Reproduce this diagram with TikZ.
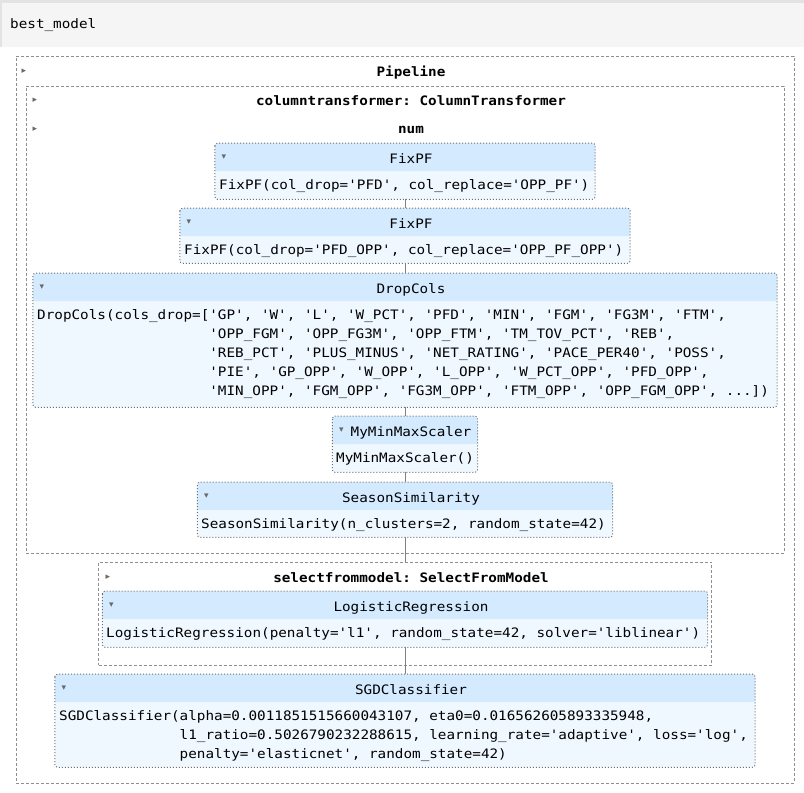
\documentclass[tikz,border=0pt]{standalone}
\usepackage{fontspec}
\setmonofont[FakeStretch=1.1]{DejaVu Sans Mono}
\newfontfamily\symfont{DejaVu Sans}

\definecolor{hdrblue}{HTML}{D4EBFF}
\definecolor{bodyblue}{HTML}{F0F8FF}
\definecolor{cellbg}{HTML}{F5F5F5}
\definecolor{cellline}{HTML}{E3E3E3}
\definecolor{wireline}{HTML}{808080}
\definecolor{dashline}{HTML}{8F8F8F}
\definecolor{dotline}{HTML}{6E6E6E}
\definecolor{arrowgray}{HTML}{696969}

\tikzset{
  mono/.style={font=\ttfamily\fontsize{13}{19}\selectfont, inner sep=0pt, text=black},
  monobold/.style={font=\ttfamily\bfseries\fontsize{13}{19}\selectfont, inner sep=0pt, text=black},
  bodyline/.style={mono, anchor=base west},
  titleline/.style={mono, anchor=base},
  grouptitle/.style={monobold, anchor=base},
  toggle/.style={font=\symfont\fontsize{9}{10}\selectfont, text=arrowgray, inner sep=0pt},
  groupbox/.style={draw=dashline, dash pattern=on 3pt off 2pt, line width=0.9pt,
    rectangle, inner sep=0pt, anchor=north},
  estfill/.style={fill=bodyblue, rectangle, rounded corners=3pt, inner sep=0pt, anchor=north},
  estborder/.style={draw=dotline, dotted, line width=1pt, rounded corners=3pt},
  wire/.style={draw=wireline, line width=1pt},
}

% estimator box: name, width, top, height, title
\newcommand\estimatorbox[5]{%
  \node[estfill, minimum width=#2, minimum height=#4] (#1) at (405,#3) {};
  \fill[hdrblue, rounded corners=3pt] (#1.north west) rectangle ([yshift=-28pt]#1.north east);
  \fill[hdrblue] ([yshift=-10pt]#1.north west) rectangle ([yshift=-28pt]#1.north east);
  \draw[estborder] (#1.north west) rectangle (#1.south east);
  \node[toggle] (#1-tg) at ([xshift=9pt,yshift=-14pt]#1.north west) {▾};
  \node[titleline] (#1-title) at (411,#3+20) {#5};
}

\begin{document}
\begin{tikzpicture}[x=1pt,y=-1pt]
\useasboundingbox (0,0) rectangle (804,793);

% notebook input cell
\fill[cellbg] (0,0) rectangle (804,47);
\fill[cellline] (0,0) rectangle (804,3);
\fill[cellline] (0,3) rectangle (2,47);
\node[bodyline] (cell) at (10,28) {best\_model};

% dashed group boxes
\node[groupbox, minimum width=778, minimum height=727] (pipe) at (405,56) {};
\node[toggle] (pipe-tg) at (24,71) {▸};
\node[grouptitle] (pipe-title) at (411,76) {Pipeline};

\node[groupbox, minimum width=758, minimum height=467] (ct) at (405,86) {};
\node[toggle] (ct-tg) at (35,100) {▸};
\node[grouptitle] (ct-title) at (411,105) {columntransformer: ColumnTransformer};
\node[toggle] (num-tg) at (35,129) {▸};
\node[grouptitle] (num-title) at (411,133) {num};

\node[groupbox, minimum width=613, minimum height=103] (sfm) at (405,562) {};
\node[toggle] (sfm-tg) at (108,577) {▸};
\node[grouptitle] (sfm-title) at (411,582) {selectfrommodel: SelectFromModel};

% estimators
\estimatorbox{fix1}{380}{143}{56}{FixPF}
\node[bodyline] (fix1-l1) at (219,189) {FixPF(col\_drop='PFD', col\_replace='OPP\_PF')};

\estimatorbox{fix2}{450}{208}{55}{FixPF}
\node[bodyline] (fix2-l1) at (184,254) {FixPF(col\_drop='PFD\_OPP', col\_replace='OPP\_PF\_OPP')};

\estimatorbox{drop}{744}{273}{134}{DropCols}
\node[bodyline] (drop-l1) at (37,319) {DropCols(cols\_drop=['GP', 'W', 'L', 'W\_PCT', 'PFD', 'MIN', 'FGM', 'FG3M', 'FTM',};
\node[bodyline] (drop-l2) at (37,338) {\hphantom{DropCols(cols\_drop=[}'OPP\_FGM', 'OPP\_FG3M', 'OPP\_FTM', 'TM\_TOV\_PCT', 'REB',};
\node[bodyline] (drop-l3) at (37,357) {\hphantom{DropCols(cols\_drop=[}'REB\_PCT', 'PLUS\_MINUS', 'NET\_RATING', 'PACE\_PER40', 'POSS',};
\node[bodyline] (drop-l4) at (37,376) {\hphantom{DropCols(cols\_drop=[}'PIE', 'GP\_OPP', 'W\_OPP', 'L\_OPP', 'W\_PCT\_OPP', 'PFD\_OPP',};
\node[bodyline] (drop-l5) at (37,395) {\hphantom{DropCols(cols\_drop=[}'MIN\_OPP', 'FGM\_OPP', 'FG3M\_OPP', 'FTM\_OPP', 'OPP\_FGM\_OPP', ...])};

\estimatorbox{mm}{145}{416}{56}{MyMinMaxScaler}
\node[bodyline] (mm-l1) at (336,462) {MyMinMaxScaler()};

\estimatorbox{season}{415}{482}{55}{SeasonSimilarity}
\node[bodyline] (season-l1) at (201,528) {SeasonSimilarity(n\_clusters=2, random\_state=42)};

\estimatorbox{logreg}{605}{591}{56}{LogisticRegression}
\node[bodyline] (logreg-l1) at (106,637) {LogisticRegression(penalty='l1', random\_state=42, solver='liblinear')};

\estimatorbox{sgd}{700}{674}{93}{SGDClassifier}
\node[bodyline] (sgd-l1) at (59,720) {SGDClassifier(alpha=0.0011851515660043107, eta0=0.016562605893335948,};
\node[bodyline] (sgd-l2) at (59,739) {\hphantom{SGDClassifier(}l1\_ratio=0.5026790232288615, learning\_rate='adaptive', loss='log',};
\node[bodyline] (sgd-l3) at (59,758) {\hphantom{SGDClassifier(}penalty='elasticnet', random\_state=42)};

% connectors of the serial chain
\draw[wire] (fix1.south) -- (fix2.north);
\draw[wire] (fix2.south) -- (drop.north);
\draw[wire] (drop.south) -- (mm.north);
\draw[wire] (mm.south) -- (season.north);
\draw[wire] (season.south) -- (sfm.north);
\draw[wire] (logreg.south) -- (sgd.north);
\end{tikzpicture}
\end{document}
